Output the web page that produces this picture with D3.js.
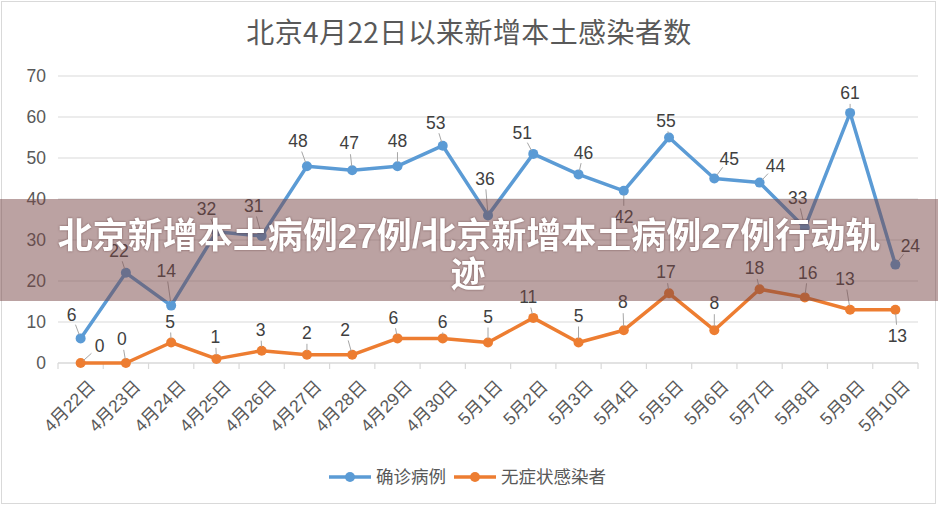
<!DOCTYPE html>
<html>
<head>
<meta charset="utf-8">
<script src="https://d3js.org/d3.v7.min.js"></script>
<style>
  body { margin: 0; background: #fff; }
  svg text { font-family: "Liberation Sans", "Noto Sans CJK SC", sans-serif; }
</style>
</head>
<body>
<script>
// data
var dates = ["4月22日","4月23日","4月24日","4月25日","4月26日","4月27日","4月28日","4月29日","4月30日",
             "5月1日","5月2日","5月3日","5月4日","5月5日","5月6日","5月7日","5月8日","5月9日","5月10日"];
var confirmed = [6, 22, 14, 32, 31, 48, 47, 48, 53, 36, 51, 46, 42, 55, 45, 44, 33, 61, 24];
var asymptomatic = [0, 0, 5, 1, 3, 2, 2, 6, 6, 5, 11, 5, 8, 17, 8, 18, 16, 13, 13];
var seriesNames = ["确诊病例", "无症状感染者"];
var yTicks = [0, 10, 20, 30, 40, 50, 60, 70];

// label offsets (as placed in the original)
var blueOff = [[-9,-24],[-7,-22],[-5,-35],[-10,-23],[-8,-30],[-9,-25],[-3,-27],[0,-25],[-7,-23],[-3,-37],
               [-11,-21],[5,-22],[0,26],[-3,-17],[15,-20],[16,-17],[-7,-30],[0,-20],[15,-19]];
var orangeOff = [[19,-17],[-4,-24],[-1,-21],[-1,-22],[-1,-21],[0,-22],[-7,-25],[-4,-21],[0,-17],[0,-26],
                 [-5,-21],[0,-27],[-1,-28],[-3,-21],[0,-27],[-5,-21],[3,-25],[-5,-31],[2,26]];

var W = 938, H = 506;
var svg = d3.select("body").append("svg").attr("width", W).attr("height", H);

svg.append("rect").attr("x", 1.5).attr("y", 1.5).attr("width", W - 4).attr("height", H - 4)
  .attr("fill", "#fff").attr("stroke", "#d9d9d9");

svg.append("text").attr("x", 469).attr("y", 43).attr("text-anchor", "middle")
  .style("font-family", "'Noto Sans CJK SC', sans-serif")
  .style("font-size", "28px").style("letter-spacing", "0.4px").attr("fill", "#595959")
  .text("北京4月22日以来新增本土感染者数");

var x = d3.scaleBand().domain(dates).range([58, 918]);
var y = d3.scaleLinear().domain([0, 70]).range([363, 76]);
var cx = function (i) { return x(dates[i]) + x.bandwidth() / 2; };

// grid
svg.append("g").selectAll("line").data(yTicks.slice(1)).enter().append("line")
  .attr("x1", 58).attr("x2", 918).attr("y1", d => y(d)).attr("y2", d => y(d))
  .attr("stroke", "#d9d9d9").attr("stroke-width", 1.2);

// y axis labels
svg.append("g").selectAll("text").data(yTicks).enter().append("text")
  .attr("x", 46).attr("y", d => y(d)).attr("dy", "0.35em").attr("text-anchor", "end")
  .attr("fill", "#595959").style("font-size", "17.5px").text(d => d);

// x axis
var xa = svg.append("g");
xa.append("line").attr("x1", 58).attr("x2", 918).attr("y1", 363).attr("y2", 363)
  .attr("stroke", "#d9d9d9").attr("stroke-width", 1.5);
xa.selectAll("line.tk").data(d3.range(dates.length + 1)).enter().append("line")
  .attr("class", "tk")
  .attr("x1", i => 58 + i * x.step()).attr("x2", i => 58 + i * x.step())
  .attr("y1", 363).attr("y2", 369).attr("stroke", "#d9d9d9").attr("stroke-width", 1.2);
xa.selectAll("text").data(dates).enter().append("text")
  .attr("transform", d => "translate(" + (x(d) + x.bandwidth() / 2 + 7) + ",379) rotate(-45)")
  .attr("text-anchor", "end").attr("dy", "0.7em")
  .attr("fill", "#595959").style("font-size", "17.5px").text(d => d);

function drawSeries(vals, color, offs) {
  var g = svg.append("g");
  var line = d3.line().x((d, i) => cx(i)).y(d => y(d));
  g.append("path").datum(vals).attr("d", line).attr("fill", "none")
    .attr("stroke", color).attr("stroke-width", 3.5).attr("stroke-linejoin", "round");
  g.selectAll("circle").data(vals).enter().append("circle")
    .attr("cx", (d, i) => cx(i)).attr("cy", d => y(d)).attr("r", 5).attr("fill", color);
  // leader lines
  g.selectAll("line").data(vals).enter().append("line")
    .each(function (d, i) {
      var px = cx(i), py = y(d), o = offs[i];
      var len = Math.sqrt(o[0] * o[0] + o[1] * o[1]);
      var ux = o[0] / len, uy = o[1] / len;
      var stop = Math.max(len - 11, 6);
      d3.select(this).attr("x1", px + ux * 4).attr("y1", py + uy * 4)
        .attr("x2", px + ux * stop).attr("y2", py + uy * stop);
    })
    .attr("stroke", "#a6a6a6").attr("stroke-width", 1);
  g.selectAll("text").data(vals).enter().append("text")
    .attr("x", (d, i) => cx(i) + offs[i][0]).attr("y", (d, i) => y(d) + offs[i][1])
    .attr("dy", "0.35em").attr("text-anchor", "middle")
    .attr("fill", "#404040").style("font-size", "17.5px").text(d => d);
}
drawSeries(confirmed, "#5b9bd5", blueOff);
drawSeries(asymptomatic, "#ed7d31", orangeOff);

// legend
var legend = svg.append("g");
var legendX = [329, 454];
seriesNames.forEach(function (name, i) {
  var c = i === 0 ? "#5b9bd5" : "#ed7d31";
  var lg = legend.append("g").attr("transform", "translate(" + legendX[i] + ",477)");
  lg.append("line").attr("x1", 0).attr("x2", 42).attr("stroke", c).attr("stroke-width", 3.5);
  lg.append("circle").attr("cx", 21).attr("r", 5).attr("fill", c);
  lg.append("text").attr("x", 47).attr("dy", "0.35em").attr("fill", "#595959")
    .style("font-family", "'Noto Sans CJK SC', sans-serif").style("font-size", "17.5px").text(name);
});

// overlay banner
svg.append("rect").attr("x", 0).attr("y", 199).attr("width", W).attr("height", 102)
  .attr("fill", "rgb(120,70,70)").attr("fill-opacity", 0.5);
var banner = svg.append("g").attr("fill", "#fff")
  .style("font-family", "'Noto Sans CJK SC', sans-serif").style("font-weight", "bold")
  .style("font-size", "35px")
  .style("filter", "drop-shadow(0 0 1px rgba(80,40,40,0.6))");
banner.append("text").attr("x", 469).attr("y", 248).attr("text-anchor", "middle")
  .text("北京新增本土病例27例/北京新增本土病例27例行动轨");
banner.append("text").attr("x", 468).attr("y", 287).attr("text-anchor", "middle").text("迹");
</script>
</body>
</html>
